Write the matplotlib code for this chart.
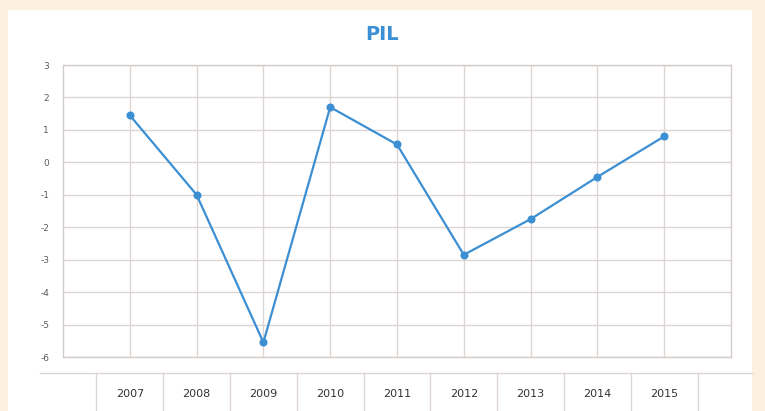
import matplotlib

matplotlib.use("Agg")
import matplotlib.pyplot as plt
from matplotlib.patches import Rectangle
from matplotlib.transforms import blended_transform_factory


YEARS = ["2007", "2008", "2009", "2010", "2011", "2012", "2013", "2014", "2015"]
PIL = [1.45, -1.0, -5.55, 1.7, 0.55, -2.85, -1.75, -0.45, 0.8]
Y_TICKS = [3, 2, 1, 0, -1, -2, -3, -4, -5, -6]

BLUE = "#3b8fd2"
GRID = "#dcd5d2"
CREAM = "#fdf0e0"


def main() -> None:
    fig = plt.figure(figsize=(7.65, 4.11), dpi=100)
    fig.patch.set_facecolor(CREAM)

    # white panel behind the chart
    fig.add_artist(
        Rectangle((8 / 765, 0), 744 / 765, 1 - 10 / 411,
                  transform=fig.transFigure, facecolor="white",
                  edgecolor="none", zorder=-5)
    )

    ax = fig.add_axes([63 / 765, 54 / 411, 668 / 765, 292 / 411])
    ax.set_zorder(2)
    ax.set_facecolor("white")

    positions = list(range(1, len(YEARS) + 1))
    ax.plot(positions, PIL, color=BLUE, linewidth=1.6, marker="o",
            markersize=4.8, zorder=3)

    ax.set_xlim(0, len(YEARS) + 1)
    ax.set_ylim(min(Y_TICKS), max(Y_TICKS))
    ax.set_yticks(Y_TICKS)
    ax.set_yticklabels([str(t) for t in Y_TICKS])
    ax.set_xticks(positions)
    ax.set_xticklabels(YEARS)

    ax.grid(True, color=GRID, linewidth=1.0)
    ax.set_axisbelow(True)
    for spine in ax.spines.values():
        spine.set_color("#d3ccc9")
        spine.set_linewidth(1.0)

    ax.tick_params(axis="y", length=0, pad=10, labelsize=6.5,
                   labelcolor="#5a5a5a")
    ax.tick_params(axis="x", length=0, pad=23, labelsize=8,
                   labelcolor="#333333")
    for label in ax.get_xticklabels() + ax.get_yticklabels():
        label.set_fontfamily("Liberation Sans Narrow")

    # category strip under the plot
    trans = blended_transform_factory(ax.transData, fig.transFigure)
    strip_top = 1 - 373 / 411
    fig.add_artist(plt.Line2D([40 / 765, 752 / 765], [strip_top, strip_top],
                              transform=fig.transFigure, color=GRID,
                              linewidth=1.0))
    for k in range(len(YEARS) + 1):
        x = k + 0.5
        fig.add_artist(plt.Line2D([x, x], [0, strip_top], transform=trans,
                                  color=GRID, linewidth=1.0))

    fig.text(0.5, 1 - 35 / 411, "PIL", ha="center", va="center",
             fontsize=14, fontweight="bold", color=BLUE,
             family="Liberation Sans Narrow")

    fig.savefig("out.png", dpi=100, facecolor=fig.get_facecolor())
    plt.close(fig)


if __name__ == "__main__":
    main()
